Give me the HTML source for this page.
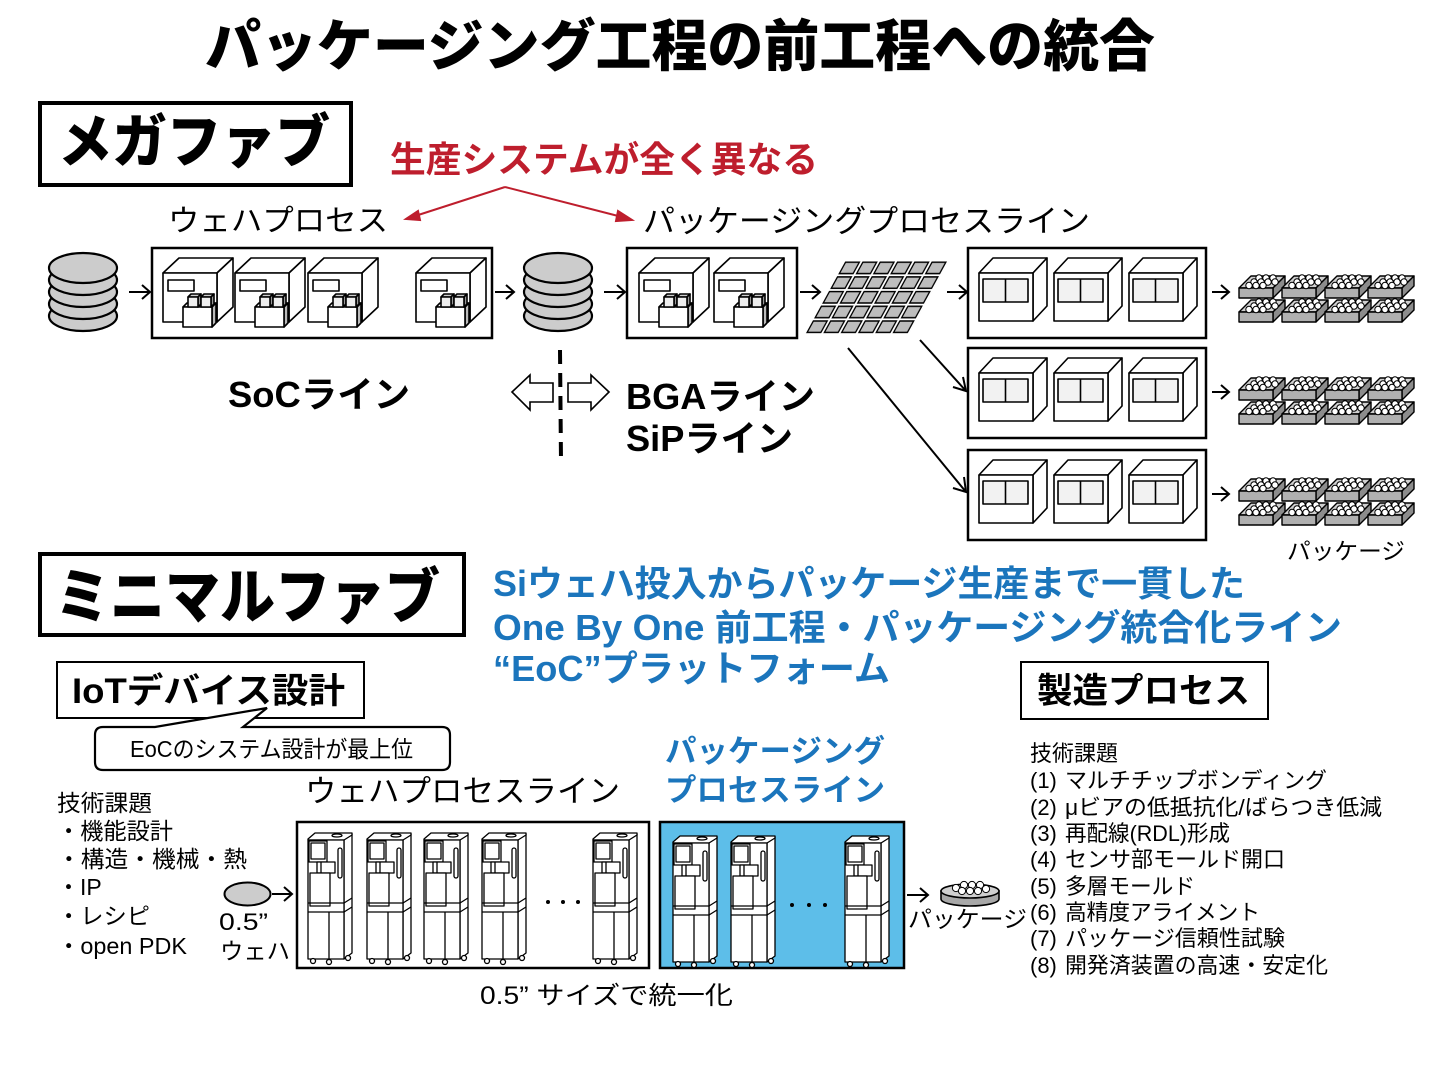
<!DOCTYPE html>
<html><head><meta charset="utf-8">
<style>
html,body{margin:0;padding:0;background:#fff;}
svg{display:block;}
text{font-family:"Liberation Sans","Noto Sans CJK JP",sans-serif;fill:#000;}
.b{font-weight:700;}
.h{font-weight:900;}
.blue{fill:#1b75bc;}
.red{fill:#be1e2d;}
</style></head><body>
<svg width="1440" height="1080" viewBox="0 0 1440 1080" xmlns="http://www.w3.org/2000/svg">
<defs>
 <g id="ws" stroke="#000" stroke-width="2.2" fill="#cccccc">
  <ellipse cx="35" cy="63" rx="34" ry="15"/>
  <ellipse cx="35" cy="51" rx="34" ry="15"/>
  <ellipse cx="35" cy="39" rx="34" ry="15"/>
  <ellipse cx="35" cy="27" rx="34" ry="15"/>
  <ellipse cx="35" cy="15" rx="34" ry="15"/>
 </g>
 <g id="ma" stroke="#000" stroke-width="1.6" stroke-linejoin="round">
  <path d="M0,15 L16,0 L70,0 L54,15 Z" fill="#fff"/>
  <path d="M54,15 L70,0 L70,49 L54,64 Z" fill="#fff"/>
  <rect x="0" y="15" width="54" height="49" fill="#fff"/>
  <rect x="5" y="22" width="26" height="11" fill="#fff"/>
  <path d="M20,49 L24,45 L53,45 L49,49 Z" fill="#fff"/>
  <path d="M49,49 L53,45 L53,65 L49,69 Z" fill="#bbb"/>
  <rect x="20" y="49" width="29" height="20" fill="#fff"/>
  <path d="M25,39 L28,36 L38,36 L35,39 Z" fill="#ccc"/>
  <path d="M35,39 L38,36 L38,46 L35,49 Z" fill="#999"/>
  <rect x="25" y="39" width="10" height="10" fill="#eee"/>
  <path d="M38,39 L41,36 L51,36 L48,39 Z" fill="#ccc"/>
  <path d="M48,39 L51,36 L51,46 L48,49 Z" fill="#999"/>
  <rect x="38" y="39" width="10" height="10" fill="#eee"/>
 </g>
 <g id="mb" stroke="#000" stroke-width="1.6" stroke-linejoin="round">
  <path d="M0,15 L14,0 L68,0 L54,15 Z" fill="#fff"/>
  <path d="M54,15 L68,0 L68,48 L54,63 Z" fill="#fff"/>
  <rect x="0" y="15" width="54" height="48" fill="#fff"/>
  <rect x="4" y="21" width="45" height="23" fill="#f2f2f2"/>
  <line x1="26.5" y1="21" x2="26.5" y2="44"/>
 </g>
 <g id="tr" stroke="#000" stroke-width="1.4" stroke-linejoin="round">
  <path d="M0,14 L12,2 L46,2 L34,14 Z" fill="#cfcfcf"/>
  <path d="M34,14 L46,2 L46,12 L34,24 Z" fill="#8c8c8c"/>
  <rect x="0" y="14" width="34" height="10" fill="#b0b0b0"/>
  <g fill="#fff" stroke-width="1">
   <circle cx="20" cy="4" r="3.2"/><circle cx="27" cy="4" r="3.2"/><circle cx="34" cy="4" r="3.2"/>
   <circle cx="15" cy="8" r="3.2"/><circle cx="22" cy="8" r="3.2"/><circle cx="29" cy="8" r="3.2"/><circle cx="36" cy="8" r="3.2"/>
   <circle cx="10" cy="11.5" r="3.2"/><circle cx="17" cy="11.5" r="3.2"/><circle cx="24" cy="11.5" r="3.2"/>
  </g>
 </g>
 <g id="mm" stroke="#000" stroke-width="1.3" fill="#fff" stroke-linejoin="round">
  <path d="M37,7 L45,2 L45,121 L37,127 Z"/>
  <path d="M1,7 L8,1 L45,1 L45,3 L37,8 L1,8 Z"/>
  <rect x="1" y="8" width="36" height="119"/>
  <ellipse cx="30" cy="3.5" rx="5" ry="1.5"/>
  <rect x="2" y="9" width="18" height="21"/>
  <rect x="4" y="11" width="14" height="16"/>
  <path d="M10,30 L28,30 L28,41 L10,41 Z"/>
  <line x1="14" y1="30" x2="14" y2="41"/>
  <rect x="3" y="41" width="20" height="33"/>
  <rect x="31" y="16" width="4" height="30" rx="2"/>
  <line x1="1" y1="71" x2="37" y2="71"/>
  <line x1="1" y1="80" x2="37" y2="80"/>
  <line x1="37" y1="71" x2="45" y2="66"/>
  <line x1="37" y1="80" x2="45" y2="75"/>
  <line x1="22" y1="80" x2="22" y2="127"/>
  <circle cx="6" cy="129" r="2.5"/>
  <circle cx="22" cy="130" r="2.5"/>
  <circle cx="41" cy="126" r="2.5"/>
 </g>
 <pattern id="cg" width="17.3" height="14.7" patternUnits="userSpaceOnUse">
  <rect x="1.2" y="1.2" width="13.8" height="11.4" fill="#bdbdbd" stroke="#000" stroke-width="1.5"/>
 </pattern>
</defs>

<!-- Title -->
<text x="205" y="66" font-size="56" class="h" textLength="950" lengthAdjust="spacingAndGlyphs">パッケージング工程の前工程への統合</text>

<!-- Mega fab -->
<rect x="40" y="103" width="311" height="82" fill="none" stroke="#000" stroke-width="4"/>
<text x="58" y="162" font-size="58" class="h" textLength="272" lengthAdjust="spacingAndGlyphs">メガファブ</text>

<text x="390" y="172" font-size="36" class="b red" textLength="428" lengthAdjust="spacingAndGlyphs">生産システムが全く異なる</text>
<g stroke="#be1e2d" stroke-width="2" fill="#be1e2d">
 <line x1="505" y1="187" x2="412" y2="217"/>
 <line x1="505" y1="187" x2="626" y2="218"/>
 <path d="M406,219 L418,211 L420,220 Z"/>
 <path d="M632,220 L618,211 L616,221 Z"/>
</g>
<text x="168" y="231" font-size="30" textLength="220" lengthAdjust="spacingAndGlyphs">ウェハプロセス</text>
<text x="643" y="232" font-size="31" textLength="447" lengthAdjust="spacingAndGlyphs">パッケージングプロセスライン</text>

<!-- Row 1 -->
<use href="#ws" x="48" y="253"/>
<use href="#ws" x="523" y="253"/>
<g stroke="#000" stroke-width="2" fill="none">
 <path d="M129,292 L150,292 M142,285 L150,292 L142,299"/>
 <path d="M495,292 L514,292 M506,285 L514,292 L506,299"/>
 <path d="M604,292 L625,292 M617,285 L625,292 L617,299"/>
 <path d="M800,292 L820,292 M812,285 L820,292 L812,299"/>
 <path d="M947,292 L967,292 M959,285 L967,292 L959,299"/>
 <path d="M1212,292 L1229,292 M1221,285 L1229,292 L1221,299"/>
 <path d="M1212,392 L1229,392 M1221,385 L1229,392 L1221,399"/>
 <path d="M1212,494 L1229,494 M1221,487 L1229,494 L1221,501"/>
 <path d="M920,340 L966,391 M953,387 L966,391 L963,377"/>
 <path d="M848,348 L966,492 M953,488 L966,492 L964,477"/>
</g>
<rect x="152" y="248" width="340" height="90" fill="none" stroke="#000" stroke-width="2.5"/>
<use href="#ma" x="163" y="258"/>
<use href="#ma" x="235" y="258"/>
<use href="#ma" x="308" y="258"/>
<use href="#ma" x="416" y="258"/>
<rect x="627" y="248" width="170" height="90" fill="none" stroke="#000" stroke-width="2.5"/>
<use href="#ma" x="639" y="258"/>
<use href="#ma" x="714" y="258"/>

<g transform="translate(845,261) skewX(-28.7)">
 <rect x="0" y="0" width="103.8" height="73.5" fill="url(#cg)"/>
</g>

<rect x="968" y="248" width="238" height="90" fill="none" stroke="#000" stroke-width="2.5"/>
<rect x="968" y="348" width="238" height="90" fill="none" stroke="#000" stroke-width="2.5"/>
<rect x="968" y="450" width="238" height="90" fill="none" stroke="#000" stroke-width="2.5"/>
<use href="#mb" x="979" y="258"/><use href="#mb" x="1054" y="258"/><use href="#mb" x="1129" y="258"/>
<use href="#mb" x="979" y="358"/><use href="#mb" x="1054" y="358"/><use href="#mb" x="1129" y="358"/>
<use href="#mb" x="979" y="460"/><use href="#mb" x="1054" y="460"/><use href="#mb" x="1129" y="460"/>

<use href="#tr" x="1239" y="274"/><use href="#tr" x="1282" y="274"/><use href="#tr" x="1325" y="274"/><use href="#tr" x="1368" y="274"/>
<use href="#tr" x="1239" y="298"/><use href="#tr" x="1282" y="298"/><use href="#tr" x="1325" y="298"/><use href="#tr" x="1368" y="298"/>
<use href="#tr" x="1239" y="376"/><use href="#tr" x="1282" y="376"/><use href="#tr" x="1325" y="376"/><use href="#tr" x="1368" y="376"/>
<use href="#tr" x="1239" y="400"/><use href="#tr" x="1282" y="400"/><use href="#tr" x="1325" y="400"/><use href="#tr" x="1368" y="400"/>
<use href="#tr" x="1239" y="477"/><use href="#tr" x="1282" y="477"/><use href="#tr" x="1325" y="477"/><use href="#tr" x="1368" y="477"/>
<use href="#tr" x="1239" y="501"/><use href="#tr" x="1282" y="501"/><use href="#tr" x="1325" y="501"/><use href="#tr" x="1368" y="501"/>
<text x="1287" y="559" font-size="23" textLength="118" lengthAdjust="spacingAndGlyphs">パッケージ</text>

<!-- line labels -->
<text x="228" y="407" font-size="36" class="b" textLength="182" lengthAdjust="spacingAndGlyphs">SoCライン</text>
<text x="626" y="409" font-size="36" class="b" textLength="189" lengthAdjust="spacingAndGlyphs">BGAライン</text>
<text x="626" y="451" font-size="36" class="b" textLength="167" lengthAdjust="spacingAndGlyphs">SiPライン</text>
<line x1="560" y1="350" x2="561" y2="462" stroke="#000" stroke-width="4" stroke-dasharray="14 9"/>
<g fill="#fff" stroke="#000" stroke-width="1.6" stroke-linejoin="miter">
 <path d="M512,392 L530,375 L530,383 L553,383 L553,402 L530,402 L530,410 Z"/>
 <path d="M609,392 L591,375 L591,383 L568,383 L568,402 L591,402 L591,410 Z"/>
</g>

<!-- Minimal fab -->
<rect x="40" y="554" width="424" height="81" fill="none" stroke="#000" stroke-width="4"/>
<text x="55" y="618" font-size="60" class="h" textLength="385" lengthAdjust="spacingAndGlyphs">ミニマルファブ</text>

<text x="493" y="596" font-size="36" class="b blue" textLength="752" lengthAdjust="spacingAndGlyphs">Siウェハ投入からパッケージ生産まで一貫した</text>
<text x="493" y="640" font-size="36" class="b blue" textLength="849" lengthAdjust="spacingAndGlyphs">One By One 前工程・パッケージング統合化ライン</text>
<text x="493" y="681" font-size="36" class="b blue" textLength="397" lengthAdjust="spacingAndGlyphs">“EoC”プラットフォーム</text>

<rect x="57" y="662" width="307" height="56" fill="#fff" stroke="#000" stroke-width="2"/>
<text x="72" y="703" font-size="35" class="b" textLength="273" lengthAdjust="spacingAndGlyphs">IoTデバイス設計</text>
<path d="M103,727 L155,727 L267,708 L243,727 L442,727 Q450,727 450,735 L450,762 Q450,770 442,770 L103,770 Q95,770 95,762 L95,735 Q95,727 103,727 Z" fill="#fff" stroke="#000" stroke-width="2.2" stroke-linejoin="miter"/>
<text x="130" y="757" font-size="23" textLength="283" lengthAdjust="spacingAndGlyphs">EoCのシステム設計が最上位</text>

<text x="57" y="811" font-size="23" textLength="95" lengthAdjust="spacingAndGlyphs">技術課題</text>
<text x="57" y="839" font-size="23" textLength="116" lengthAdjust="spacingAndGlyphs">・機能設計</text>
<text x="57" y="867" font-size="23" textLength="190" lengthAdjust="spacingAndGlyphs">・構造・機械・熱</text>
<text x="57" y="895" font-size="23">・IP</text>
<text x="57" y="924" font-size="23" textLength="93" lengthAdjust="spacingAndGlyphs">・レシピ</text>
<text x="57" y="954" font-size="23" textLength="130" lengthAdjust="spacingAndGlyphs">・open PDK</text>

<ellipse cx="247.5" cy="894" rx="23" ry="11.5" fill="#cccccc" stroke="#000" stroke-width="2"/>
<path d="M272,894 L292,894 M284,887 L292,894 L284,901" fill="none" stroke="#000" stroke-width="2"/>
<text x="219" y="930" font-size="24" textLength="49" lengthAdjust="spacingAndGlyphs">0.5”</text>
<text x="220" y="959" font-size="23" textLength="70" lengthAdjust="spacingAndGlyphs">ウェハ</text>

<text x="305" y="802" font-size="31" textLength="315" lengthAdjust="spacingAndGlyphs">ウェハプロセスライン</text>
<text x="665" y="762" font-size="31" class="b blue" textLength="220" lengthAdjust="spacingAndGlyphs">パッケージング</text>
<text x="665" y="801" font-size="31" class="b blue" textLength="220" lengthAdjust="spacingAndGlyphs">プロセスライン</text>

<rect x="297" y="822" width="352" height="146" fill="#fff" stroke="#000" stroke-width="2.5"/>
<use href="#mm" x="307" y="832"/>
<use href="#mm" x="366" y="832"/>
<use href="#mm" x="423" y="832"/>
<use href="#mm" x="481" y="832"/>
<use href="#mm" x="592" y="832"/>
<g fill="#000"><circle cx="548" cy="902" r="2"/><circle cx="563" cy="902" r="2"/><circle cx="578" cy="902" r="2"/></g>

<rect x="660" y="822" width="244" height="146" fill="#5dbee9" stroke="#000" stroke-width="2.5"/>
<use href="#mm" x="672" y="835"/>
<use href="#mm" x="730" y="835"/>
<use href="#mm" x="844" y="835"/>
<g fill="#000"><circle cx="792" cy="905" r="2"/><circle cx="809" cy="905" r="2"/><circle cx="825" cy="905" r="2"/></g>

<path d="M907,895 L928,895 M920,888 L928,895 L920,902" fill="none" stroke="#000" stroke-width="2"/>
<path d="M941,891 L941,899 A29,7 0 0 0 999,899 L999,891 Z" fill="#a8a8a8" stroke="#000" stroke-width="1.6"/>
<ellipse cx="970" cy="891" rx="29" ry="7" fill="#cfcfcf" stroke="#000" stroke-width="1.6"/>
<g fill="#fff" stroke="#000" stroke-width="1">
 <circle cx="956" cy="888" r="3.6"/><circle cx="964" cy="885" r="3.6"/><circle cx="972" cy="885" r="3.6"/><circle cx="980" cy="885" r="3.6"/><circle cx="986" cy="889" r="3.6"/>
 <circle cx="962" cy="891" r="3.6"/><circle cx="970" cy="891" r="3.6"/><circle cx="978" cy="891" r="3.6"/>
</g>
<text x="908" y="927" font-size="23" textLength="119" lengthAdjust="spacingAndGlyphs">パッケージ</text>

<text x="480" y="1004" font-size="25" textLength="253" lengthAdjust="spacingAndGlyphs">0.5” サイズで統一化</text>

<!-- Manufacturing process -->
<rect x="1021" y="662" width="247" height="57" fill="none" stroke="#000" stroke-width="2"/>
<text x="1037" y="703" font-size="35" class="b" textLength="213" lengthAdjust="spacingAndGlyphs">製造プロセス</text>

<text x="1030" y="761" font-size="22" textLength="88" lengthAdjust="spacingAndGlyphs">技術課題</text>
<g font-size="22">
 <text x="1030" y="788">(1)</text><text x="1065" y="788" textLength="262" lengthAdjust="spacingAndGlyphs">マルチチップボンディング</text>
 <text x="1030" y="815">(2)</text><text x="1065" y="815" textLength="317" lengthAdjust="spacingAndGlyphs">μビアの低抵抗化/ばらつき低減</text>
 <text x="1030" y="841">(3)</text><text x="1065" y="841" textLength="165" lengthAdjust="spacingAndGlyphs">再配線(RDL)形成</text>
 <text x="1030" y="867">(4)</text><text x="1065" y="867" textLength="220" lengthAdjust="spacingAndGlyphs">センサ部モールド開口</text>
 <text x="1030" y="894">(5)</text><text x="1065" y="894" textLength="130" lengthAdjust="spacingAndGlyphs">多層モールド</text>
 <text x="1030" y="920">(6)</text><text x="1065" y="920" textLength="195" lengthAdjust="spacingAndGlyphs">高精度アライメント</text>
 <text x="1030" y="946">(7)</text><text x="1065" y="946" textLength="220" lengthAdjust="spacingAndGlyphs">パッケージ信頼性試験</text>
 <text x="1030" y="973">(8)</text><text x="1065" y="973" textLength="263" lengthAdjust="spacingAndGlyphs">開発済装置の高速・安定化</text>
</g>
</svg>
</body></html>
